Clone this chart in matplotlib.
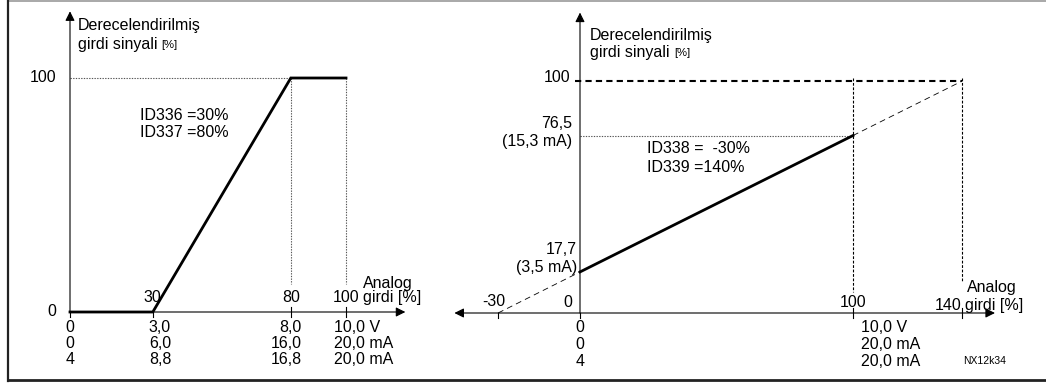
"""
Scaled analog input signal diagrams (ID336/ID337 and ID338/ID339).
"""
import matplotlib.pyplot as plt
from matplotlib.lines import Line2D

plt.rcParams["font.family"] = ["Liberation Sans", "DejaVu Sans"]

W, H = 1046, 383
FS = 11.5
FS_SMALL = 8

# left diagram data
left_x = [0, 30, 80, 100]
left_y = [0, 0, 100, 100]
left_ticks = [0, 30, 80, 100]
left_tick_labels = ["", "30", "80", "100"]
left_volt = ["0", "3,0", "8,0", "10,0 V"]
left_ma = ["0", "6,0", "16,0", "20,0 mA"]
left_ma4 = ["4", "8,8", "16,8", "20,0 mA"]

# right diagram data
right_x = [-30, 0, 100, 140]
right_y = [0, 17.7, 76.5, 100]
right_ticks = [-30, 0, 100, 140]
right_volt = ["0", "10,0 V"]
right_ma = ["0", "20,0 mA"]
right_ma4 = ["4", "20,0 mA"]

fig = plt.figure(figsize=(W / 100, H / 100), dpi=100)


def panel(x0, y0, sx, sy, xlim, ylim):
    """Axes whose data origin sits at pixel (x0, y0) with sx/sy px per unit."""
    left = (x0 + sx * xlim[0]) / W
    width = sx * (xlim[1] - xlim[0]) / W
    bottom = 1 - (y0 - sy * ylim[0]) / H
    height = sy * (ylim[1] - ylim[0]) / H
    ax = fig.add_axes([left, bottom, width, height])
    ax.set_xlim(xlim)
    ax.set_ylim(ylim)
    ax.axis("off")
    return ax


def arrow(ax, start, end, style="-|>"):
    ax.annotate("", xy=end, xytext=start,
                arrowprops=dict(arrowstyle=style, lw=0.8, color="black",
                                mutation_scale=14, shrinkA=0, shrinkB=0))


def ylabel_block(ax, x, y1, y2):
    ax.text(x, y1, "Derecelendirilmiş", fontsize=FS, va="center", ha="left")
    t = ax.text(x, y2, "girdi sinyali", fontsize=FS, va="center", ha="left")
    ax.annotate("[%]", xy=(1, 0), xycoords=t, xytext=(3, 1),
                textcoords="offset points", fontsize=FS_SMALL, va="bottom")


frame_kw = dict(transform=fig.transFigure)
fig.add_artist(Line2D([8 / W, 1], [1 - 1 / H, 1 - 1 / H], color="#999999", lw=1.2, **frame_kw))
fig.add_artist(Line2D([8 / W, 8 / W], [1 - 1 / H, 1 - 381 / H], color="#222222", lw=1.6, **frame_kw))
fig.add_artist(Line2D([8 / W, 1], [1 - 380 / H, 1 - 380 / H], color="#222222", lw=2.0, **frame_kw))

# ---------------- left diagram ----------------
sx, sy = 2.76, 2.34
ax = panel(70, 312, sx, sy, (-22, 128), (-32, 135))
arrow(ax, (0, 0), (0, 128.5))
arrow(ax, (0, 0), (121.5, 0))
dot = dict(color="#555555", lw=0.8, ls=(0, (1.2, 1.2)))
ax.plot([0, left_x[2]], [100, 100], **dot)
ax.plot([left_x[2], left_x[2]], [100, 12], **dot)
ax.plot([left_x[3], left_x[3]], [100, 12], **dot)
ax.plot(left_x, left_y, color="black", lw=2.0, solid_joinstyle="miter", zorder=3)
for t in left_ticks:
    top = 2 if t >= 80 else 0
    ax.plot([t, t], [top, -2.2], color="black", lw=0.8)
for t, lab in zip(left_ticks, left_tick_labels):
    if lab:
        ax.text(t, 6, lab, fontsize=FS, ha="center", va="center")
ax.text(-5, 100, "100", fontsize=FS, ha="right", va="center")
ax.text(-5, 0, "0", fontsize=FS, ha="right", va="center")
ax.text(106.3, 12, "Analog", fontsize=FS, ha="left", va="center")
ax.text(106.3, 6, "girdi [%]", fontsize=FS, ha="left", va="center")
ax.text(25.4, 84, "ID336 =30%", fontsize=FS, ha="left", va="center")
ax.text(25.4, 76.7, "ID337 =80%", fontsize=FS, ha="left", va="center")
ylabel_block(ax, 2.9, 122.6, 114.5)
rows = [-6.5, -13.3, -20.4]
for r, col in zip(rows, [left_volt, left_ma, left_ma4]):
    ax.text(0, r, col[0], fontsize=FS, ha="center", va="center")
    ax.text(28.6, r, col[1], fontsize=FS, ha="left", va="center")
    ax.text(84, r, col[2], fontsize=FS, ha="right", va="center")
    ax.text(95.8, r, col[3], fontsize=FS, ha="left", va="center")

# ---------------- right diagram ----------------
sx, sy = 2.73, 2.32
ax = panel(580, 313, sx, sy, (-52, 160), (-32, 135))
arrow(ax, (0, 0), (0, 129.5))
arrow(ax, (-46, 0), (152, 0), style="<|-|>")
ax.plot([-2, right_x[3]], [100, 100], color="black", lw=1.5, ls=(0, (3, 2)))
ax.plot([0, right_x[2]], [right_y[2], right_y[2]], **dot)
vdash = dict(color="black", lw=0.8, ls=(0, (2.5, 1.5)))
ax.plot([right_x[2], right_x[2]], [101.5, 9], **vdash)
ax.plot([right_x[3], right_x[3]], [101.5, 13.5], **vdash)
ext = dict(color="black", lw=0.6, ls=(0, (7, 5)))
ax.plot(right_x[:2], right_y[:2], **ext)
ax.plot(right_x[2:], right_y[2:], **ext)
ax.plot(right_x[1:3], right_y[1:3], color="black", lw=2.0, zorder=3)
for t in right_ticks:
    top = 2 if t >= 100 else 0
    ax.plot([t, t], [top, -2.2], color="black", lw=0.8)
ax.text(-31.5, 4.8, "-30", fontsize=FS, ha="center", va="center")
ax.text(-4.3, 4.4, "0", fontsize=FS, ha="center", va="center")
ax.text(100, 4.4, "100", fontsize=FS, ha="center", va="center")
ax.text(139.6, 3.2, "140", fontsize=FS, ha="right", va="center")
ax.text(141.2, 3.2, "girdi [%]", fontsize=FS, ha="left", va="center")
ax.text(141.6, 10.8, "Analog", fontsize=FS, ha="left", va="center")
ax.text(-3.6, 101.5, "100", fontsize=FS, ha="right", va="center")
ax.text(-2.9, 81.5, "76,5", fontsize=FS, ha="right", va="center")
ax.text(-2.9, 73.8, "(15,3 mA)", fontsize=FS, ha="right", va="center")
ax.text(-1.3, 27.5, "17,7", fontsize=FS, ha="right", va="center")
ax.text(-1.0, 19.5, "(3,5 mA)", fontsize=FS, ha="right", va="center")
ax.text(24.6, 70.7, "ID338 =  -30%", fontsize=FS, ha="left", va="center")
ax.text(24.6, 62.9, "ID339 =140%", fontsize=FS, ha="left", va="center")
ylabel_block(ax, 3.7, 119.8, 112.5)
rows = [-6.2, -13.7, -20.7]
for r, col in zip(rows, [right_volt, right_ma, right_ma4]):
    ax.text(0, r, col[0], fontsize=FS, ha="center", va="center")
    ax.text(103, r, col[1], fontsize=FS, ha="left", va="center")
ax.text(140.3, -20.5, "NX12k34", fontsize=7.5, ha="left", va="center")

fig.savefig("out.png", dpi=100)
